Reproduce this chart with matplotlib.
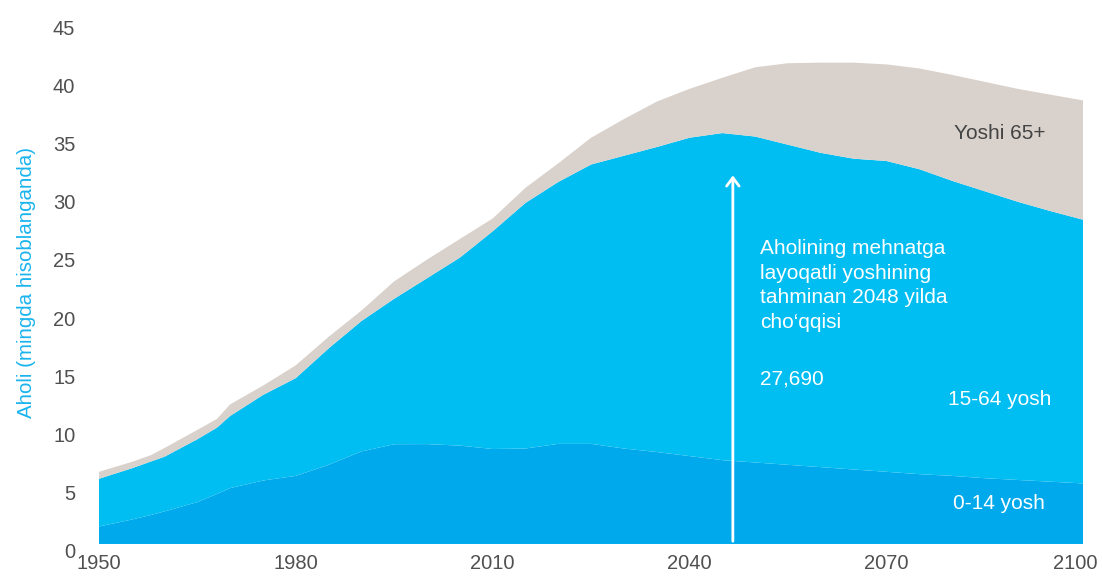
import matplotlib.pyplot as plt
import matplotlib.transforms as mtransforms

plt.rcParams['font.family'] = ['Liberation Sans', 'DejaVu Sans']

# 1. data (mingda)
years = [1950, 1955, 1958, 1960, 1965, 1968, 1970, 1975, 1980, 1985, 1990, 1995,
         2000, 2005, 2010, 2015, 2020, 2025, 2030, 2035, 2040, 2045, 2050, 2055,
         2060, 2065, 2070, 2075, 2080, 2085, 2090, 2095, 2100]
age_0_14 = [1.5, 2.1, 2.5, 2.8, 3.6, 4.3, 4.8, 5.45, 5.85, 6.8, 7.95, 8.57,
            8.58, 8.45, 8.16, 8.2, 8.6, 8.6, 8.2, 7.9, 7.55, 7.2, 7.0, 6.8,
            6.6, 6.4, 6.2, 6.0, 5.85, 5.65, 5.5, 5.35, 5.2]
age_15_64 = [4.1, 4.4, 4.6, 4.7, 5.4, 5.7, 6.2, 7.35, 8.4, 10.0, 11.2, 12.5,
             14.25, 16.15, 18.7, 21.1, 22.5, 24.0, 25.15, 26.2, 27.35, 28.1, 28.0, 27.5,
             27.0, 26.7, 26.7, 26.2, 25.35, 24.65, 23.9, 23.25, 22.65]
age_65 = [0.6, 0.55, 0.55, 0.75, 0.8, 0.75, 1.0, 0.8, 1.1, 1.0, 0.9, 1.5,
          1.6, 1.6, 1.1, 1.3, 1.6, 2.3, 3.15, 3.9, 4.2, 4.75, 5.95, 7.0,
          7.75, 8.25, 8.3, 8.65, 9.1, 9.4, 9.7, 10.0, 10.25]

x_ticks = [1950, 1980, 2010, 2040, 2070, 2100]
y_ticks = [0, 5, 10, 15, 20, 25, 30, 35, 40, 45]

colors = ['#00A9EB', '#00BDF2', '#D9D1CB']
tick_color = '#505050'

# 2. figure
fig = plt.figure(figsize=(11.02, 5.76), dpi=100)
ax = fig.add_axes([0.0898, 0.0556, 0.8932, 0.9094])

ax.stackplot(years, age_0_14, age_15_64, age_65, colors=colors, linewidth=0)

ax.set_xlim(1950, 2100)
ax.set_ylim(0, 45)
ax.set_xticks(x_ticks)
ax.set_yticks(y_ticks)
ax.tick_params(length=0, labelsize=14.5, labelcolor=tick_color)
ax.tick_params(axis='y', pad=17)
ax.tick_params(axis='x', pad=7)
for s in ax.spines.values():
    s.set_visible(False)

# y tick labels sit a little below their value
off = mtransforms.ScaledTranslation(0, -5 / 72, fig.dpi_scale_trans)
for lab in ax.get_yticklabels():
    lab.set_transform(lab.get_transform() + off)
last = ax.get_xticklabels()[-1]
last.set_transform(last.get_transform() + mtransforms.ScaledTranslation(-6 / 72, 0, fig.dpi_scale_trans))

ax.set_ylabel('Aholi (mingda hisoblanganda)', color='#1AB4EE', fontsize=14.8, labelpad=12)

# 3. annotations
ax.annotate('', xy=(2046.6, 31.9), xytext=(2046.6, 0),
            arrowprops=dict(arrowstyle='->, head_width=0.45, head_length=0.6',
                            color='white', lw=2))
ax.text(2050.8, 26.2, 'Aholining mehnatga\nlayoqatli yoshining\ntahminan 2048 yilda\ncho\u2018qqisi',
        color='white', fontsize=15, va='top', ha='left', linespacing=1.38)
ax.text(2050.8, 14.2, '27,690', color='white', fontsize=15, va='center', ha='left')
ax.text(2095.2, 12.4, '15-64 yosh', color='white', fontsize=15, va='center', ha='right')
ax.text(2094.2, 3.5, '0-14 yosh', color='white', fontsize=15, va='center', ha='right')
ax.text(2094.2, 35.3, 'Yoshi 65+', color='#444444', fontsize=15, va='center', ha='right')

fig.savefig('out.png', dpi=100)
